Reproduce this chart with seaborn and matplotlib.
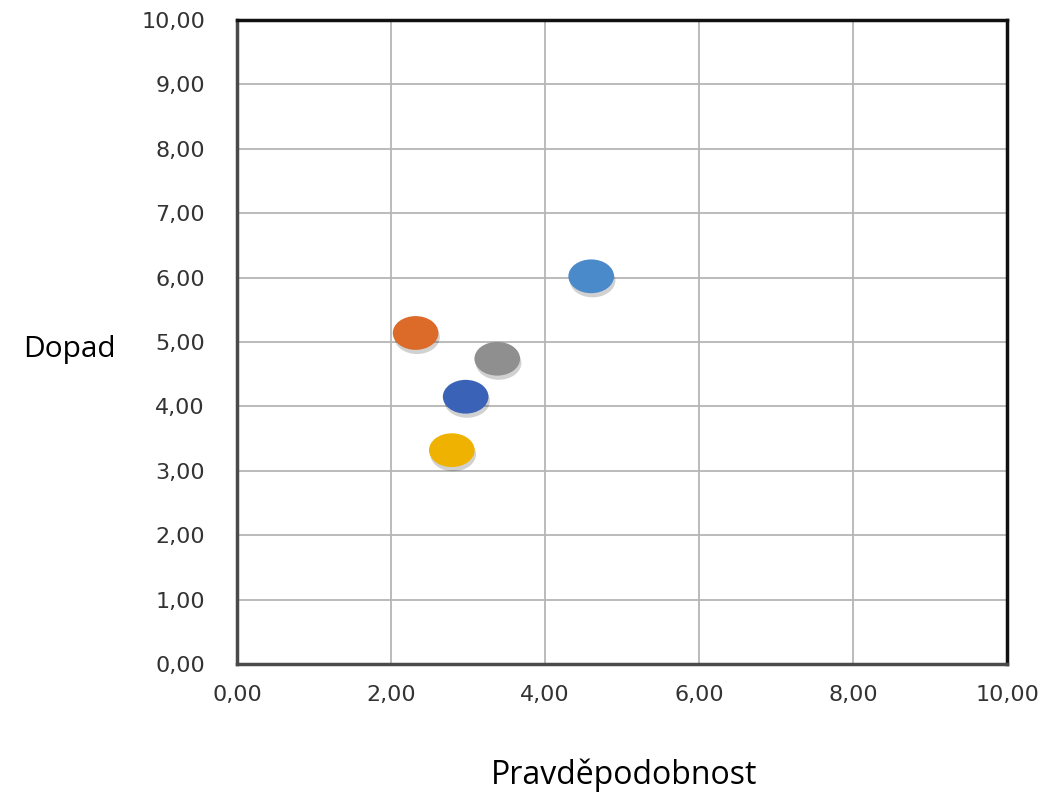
import matplotlib
matplotlib.use("Agg")
import matplotlib.pyplot as plt
import matplotlib.patheffects as pe
from matplotlib.path import Path
from matplotlib.ticker import FuncFormatter
import seaborn as sns
import pandas as pd

# risk points
labels = ["R1", "R2", "R3", "R4", "R5"]
pravdepodobnost = [4.60, 2.32, 3.38, 2.97, 2.79]
dopad = [6.02, 5.14, 4.74, 4.15, 3.32]
colors = ["#4A8ACB", "#DC6A28", "#8F8F8F", "#3A63B8", "#F0B200"]

df = pd.DataFrame({"risk": labels, "x": pravdepodobnost, "y": dopad})

sns.set_style("white")
plt.rcParams["font.family"] = ["DejaVu Sans"]

# ellipse marker (wider than tall)
circ = Path.unit_circle()
ellipse = Path(circ.vertices * [1.0, 0.74], circ.codes)

fig = plt.figure(figsize=(10.48, 7.97), dpi=100)
ax = fig.add_axes([0.2261, 0.1669, 0.7348, 0.808])

sns.scatterplot(data=df, x="x", y="y", hue="risk", palette=colors,
                marker=ellipse, s=1080, linewidth=0, legend=False, ax=ax,
                zorder=3)
for c in ax.collections:
    c.set_path_effects([pe.SimplePatchShadow(offset=(1, -3), alpha=0.18,
                                             shadow_rgbFace="black"),
                        pe.Normal()])

ax.set_xlim(0, 10)
ax.set_ylim(0, 10)
ax.set_xticks(range(0, 11, 2))
ax.set_yticks(range(0, 11, 1))
fmt = FuncFormatter(lambda v, p: f"{v:.2f}".replace(".", ","))
ax.xaxis.set_major_formatter(fmt)
ax.yaxis.set_major_formatter(fmt)
ax.tick_params(labelsize=16, colors="#333333", length=0)
ax.tick_params(axis="y", pad=23)
ax.tick_params(axis="x", pad=15)
ax.grid(True, color="#B5B5B5", linewidth=1.3)
ax.set_axisbelow(True)
for s in ["left", "bottom"]:
    ax.spines[s].set_color("#4A4A4A")
    ax.spines[s].set_linewidth(2.5)
for s in ["top", "right"]:
    ax.spines[s].set_color("#111111")
    ax.spines[s].set_linewidth(2.5)
ax.set_xlabel("")
ax.set_ylabel("")

fig.text(0.0665, 0.561, "Dopad", fontsize=21.5, family="Open Sans",
         ha="center", va="center", color="black")
fig.text(0.5955, 0.027, "Pravděpodobnost", fontsize=23, family="Open Sans",
         ha="center", va="center", color="black")

fig.savefig("out.png", dpi=100)
